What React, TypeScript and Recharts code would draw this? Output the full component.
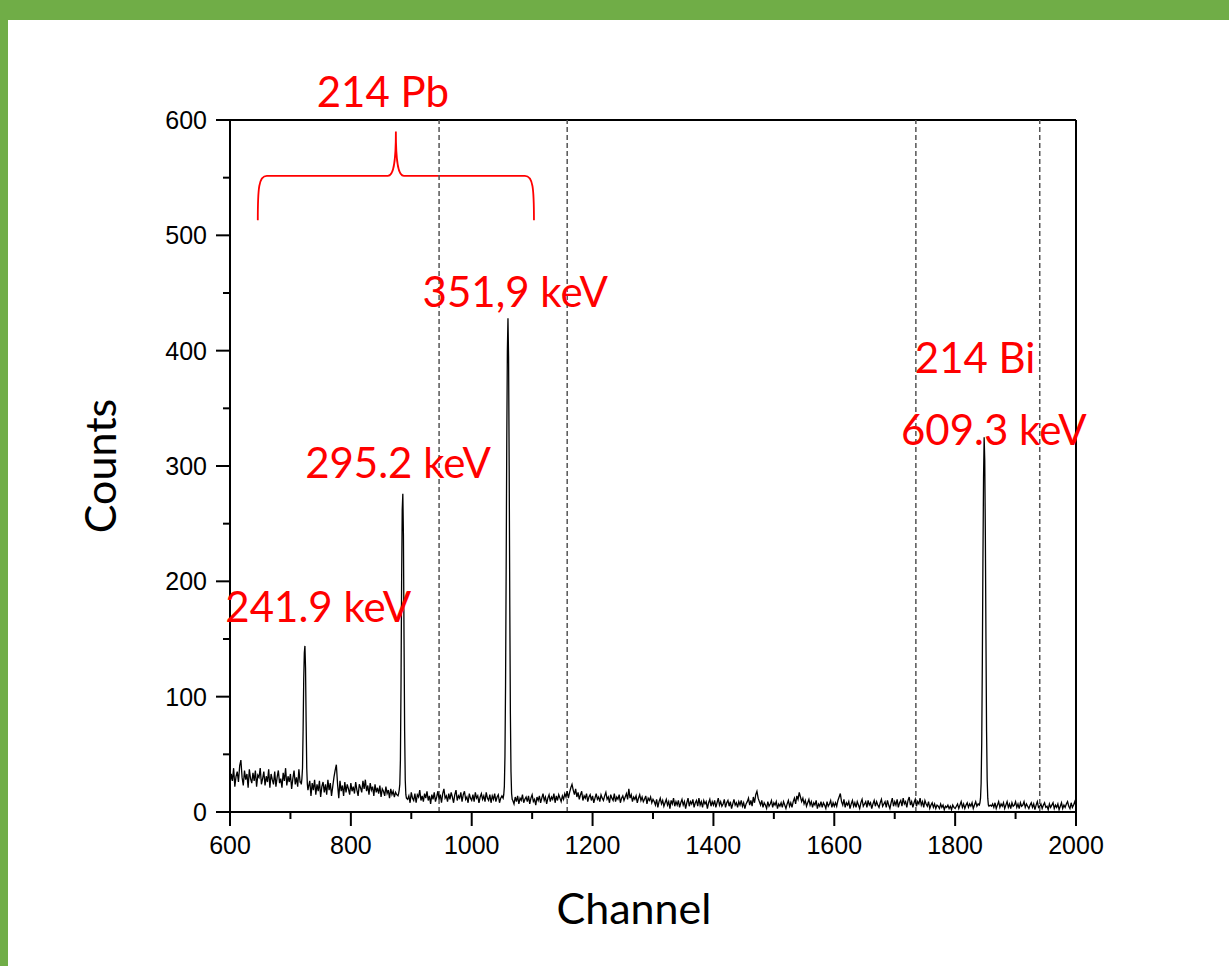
import React from "react";
import { LineChart, Line, XAxis, YAxis, ReferenceLine, ReferenceArea, ReferenceDot, Customized } from "recharts";

// gamma spectrum, background read every 2 channels, peaks read channel by channel
const bgStep = 2;

const bg600 = [
  24, 33, 27, 38, 22, 31, 35, 26, 40, 45,
  30, 23, 36, 28, 33, 21, 37, 29, 25, 34,
  27, 36, 22, 32, 30, 38, 24, 29, 35, 23,
  31, 26, 37, 21, 33, 28, 24, 35, 22, 30,
  36, 25, 29, 21, 34, 27, 38, 23, 31, 26,
  33, 20, 29, 36, 24, 30, 22, 37, 26, 32,
  28, 30,
];
const bg724 = [
  28, 26, 24, 17, 27, 14, 25, 19, 28, 15,
  24, 18, 27, 13, 22, 26, 17, 24, 15, 28,
  19, 25, 14, 22, 30, 36, 41, 24, 12, 27,
  18, 23, 14, 26, 17, 24, 20, 15, 25, 18,
  22, 16, 26, 19, 14, 24, 21, 17, 27, 20,
  28, 18, 23, 15, 25, 19, 22, 14, 24, 17,
  21, 16, 23, 13, 20, 18, 14, 22, 16, 19,
  12, 20, 15, 18, 13, 17, 15, 14,
];
const bg880 = [
  16, 14, 12, 10, 15, 9, 18, 11, 14, 8,
  17, 12, 10, 16, 8, 15, 13, 19, 10, 14,
  9, 16, 12, 18, 10, 14, 7, 15, 11, 17,
  9, 13, 18, 11, 15, 8, 16, 20, 12, 14,
  9, 16, 11, 17, 13, 8, 15, 19, 10, 14,
  12, 17, 9, 15, 18, 11, 13, 8, 16, 12,
  10, 15, 9, 17, 12, 14, 8, 13, 16, 11,
  14, 9, 17, 12, 10, 15, 8, 14, 11, 16,
  9, 13, 15, 8, 12, 14,
];
const bg1052 = [
  14, 13, 12, 11, 10, 9, 8, 12, 10, 7,
  13, 9, 14, 7, 12, 10, 15, 8, 11, 13,
  9, 14, 7, 12, 15, 9, 11, 6, 13, 10,
  14, 8, 12, 16, 10, 13, 7, 12, 15, 9,
  13, 11, 16, 8, 14, 10, 15, 12, 9, 14,
  11, 16, 13, 18, 12, 17, 21, 24, 19, 15,
  20, 13, 17, 11, 15, 18, 10, 14, 12, 16,
  9, 13, 15, 10, 14, 8, 12, 16, 11, 13,
  9, 15, 12, 10, 14, 17, 11, 13, 8, 15,
  12, 10, 16, 9, 13, 11, 15, 8, 12, 14,
  10, 13, 16, 11, 20, 12, 15, 9, 13, 11,
  14, 8, 12, 15, 10, 13, 9, 11, 14, 7,
  12, 10, 13, 8, 11,
];
const bg1302 = [
  9, 6, 11, 4, 9, 12, 7, 10, 5, 8,
  11, 6, 9, 3, 10, 7, 12, 5, 9, 6,
  10, 4, 8, 11, 6, 9, 3, 8, 12, 5,
  9, 7, 11, 4, 8, 10, 5, 12, 6, 9,
  4, 10, 7, 9, 3, 8, 11, 5, 9, 6,
  10, 4, 8, 12, 6, 9, 5, 7, 11, 4,
  8, 10, 5, 9, 3, 7, 11, 6, 8, 4,
  9, 6, 10, 5, 8, 3, 7, 9, 12, 6,
  10, 5, 13, 8, 15, 18, 12, 9, 6, 10,
  4, 8, 6, 3, 9, 5, 7, 10, 4, 8,
  6, 9, 3, 7, 5, 8, 4, 9, 6, 3,
  7, 10, 5, 8, 4, 9, 12, 7, 14, 11,
  17, 13, 9, 12, 7, 10, 5, 8, 11, 6,
  9, 4, 8, 6, 10, 3, 7, 5, 9, 4,
  8, 6, 3, 9, 5, 7, 10, 4, 8, 5,
];
const bg1602 = [
  8, 5, 10, 13, 16, 9, 6, 11, 4, 8,
  6, 9, 3, 7, 10, 5, 8, 4, 9, 6,
  3, 8, 11, 5, 7, 9, 4, 10, 6, 8,
  3, 7, 10, 5, 9, 6, 4, 8, 11, 5,
  7, 9, 4, 10, 6, 3, 8, 12, 5, 9,
  6, 11, 4, 8, 10, 5, 12, 7, 9, 4,
  10, 13, 6, 9, 4, 8, 11, 5, 9, 7,
  12, 6, 9, 4, 10, 7, 5, 9, 3, 6,
  8, 4, 7, 3, 6, 5, 3, 7, 4, 6,
  2, 5, 4, 6, 3, 5, 2, 6, 4, 3,
  5, 7, 3, 6, 9, 4, 7, 3, 6, 8,
  4, 7, 5, 8, 3, 6, 9, 5, 7, 6,
  6, 5, 6, 4, 5, 6, 4, 5, 6, 5,
  7, 4, 8, 3, 6, 9, 4, 7, 5, 8,
  3, 6, 9, 4, 7, 3, 8, 5, 6, 9,
  4, 7, 3, 8, 5, 6, 9, 4, 7, 5,
  3, 6, 8, 4, 7, 2, 6, 9, 4, 5,
  7, 3, 6, 8, 4, 5, 2, 7, 4, 6,
  8, 3, 6, 4, 7, 2, 5, 8, 3, 6,
  4, 7, 9, 5, 3, 8, 4, 6, 9, 5,
];

const peak242 = [26, 24, 29, 38, 72, 115, 138, 144, 125, 78, 38, 24, 19, 22];
const peak295 = [16, 19, 24, 45, 110, 200, 262, 276, 240, 150, 70, 28, 15, 12];
const peak352 = [12, 15, 22, 48, 110, 210, 320, 400, 428, 395, 300, 180, 85, 35, 16, 11];
const peak609 = [6, 8, 12, 25, 60, 130, 220, 290, 325, 305, 240, 150, 70, 28, 12, 6];

const backgroundSegments: [number, number[]][] = [
  [600, bg600], [724, bg724], [880, bg880], [1052, bg1052], [1302, bg1302], [1602, bg1602],
];
const peakSegments: [number, number[]][] = [
  [717, peak242], [879, peak295], [1052, peak352], [1840, peak609],
];

const counts = new Map<number, number>();
backgroundSegments.forEach(([start, vals]) => vals.forEach((v, i) => counts.set(start + i * bgStep, v)));
peakSegments.forEach(([start, vals]) => vals.forEach((v, i) => counts.set(start + i, v)));
const spectrum = [...counts.entries()]
  .filter(([channel]) => channel <= 2000)
  .sort((a, b) => a[0] - b[0])
  .map(([channel, value]) => ({ channel, value }));

const xTicks = [600, 700, 800, 900, 1000, 1100, 1200, 1300, 1400, 1500, 1600, 1700, 1800, 1900, 2000];
const yTicks = [0, 50, 100, 150, 200, 250, 300, 350, 400, 450, 500, 550, 600];
const markerChannels = [946, 1158, 1735, 1940];

// peak labels, anchored at channel / counts (text centre, baseline)
const peakLabels = [
  { text: "214 Pb", channel: 853, counts: 611 },
  { text: "351,9 keV", channel: 1072, counts: 438 },
  { text: "214 Bi", channel: 1833, counts: 381 },
  { text: "609.3 keV", channel: 1864, counts: 318 },
  { text: "295.2 keV", channel: 878, counts: 290 },
  { text: "241.9 keV", channel: 746, counts: 165 },
];

const GREEN = "#70AD47";
const RED = "#FF0000";
const tickFont = "'Liberation Sans', Arial, sans-serif";
const labelFont = "Lato, 'Noto Sans', sans-serif";

const XTick = ({ x, y, payload }: any) => {
  const major = payload.value % 200 === 0;
  return (
    <g>
      <line x1={x} x2={x} y1={y} y2={y + (major ? 14 : 7)} stroke="#000" strokeWidth={2} />
      {major && (
        <text x={x} y={y + 42} textAnchor="middle" fontSize={25} fontFamily={tickFont} fill="#000">
          {payload.value}
        </text>
      )}
    </g>
  );
};

const YTick = ({ x, y, payload }: any) => {
  const major = payload.value % 100 === 0;
  return (
    <g>
      <line x1={x} x2={x - (major ? 14 : 7)} y1={y} y2={y} stroke="#000" strokeWidth={2} />
      {major && (
        <text x={x - 23} y={y} dy="0.36em" textAnchor="end" fontSize={25} fontFamily={tickFont} fill="#000">
          {payload.value}
        </text>
      )}
    </g>
  );
};

const Brace = ({ x, y, width, height }: any) => {
  const yb = y + height;
  const yh = y + height * 0.5;
  const xc = x + width / 2;
  const x1 = x + width;
  const d = [
    `M ${x} ${yb}`,
    `C ${x} ${yh + 12} ${x + 1} ${yh} ${x + 9} ${yh}`,
    `L ${xc - 8} ${yh}`,
    `C ${xc - 3} ${yh} ${xc} ${yh - 10} ${xc} ${y}`,
    `C ${xc} ${yh - 10} ${xc + 3} ${yh} ${xc + 8} ${yh}`,
    `L ${x1 - 9} ${yh}`,
    `C ${x1 - 1} ${yh} ${x1} ${yh + 12} ${x1} ${yb}`,
  ].join(" ");
  return <path d={d} fill="none" stroke={RED} strokeWidth={1.8} />;
};

const AxisTitles = () => (
  <g fontFamily={labelFont} fontSize={43} fill="#000">
    <text x={634} y={924} textAnchor="middle">Channel</text>
    <text x={116} y={466} textAnchor="middle" transform="rotate(-90 116 466)">Counts</text>
  </g>
);

export default function App() {
  return (
    <div style={{ position: "relative", width: 1229, height: 966, background: "#fff", overflow: "hidden" }}>
      <style>{`body{margin:0}`}</style>
      <div style={{ position: "absolute", left: 0, top: 0, width: 1229, height: 20, background: GREEN }} />
      <div style={{ position: "absolute", left: 0, top: 0, width: 8, height: 966, background: GREEN }} />
      <div style={{ position: "absolute", left: 0, top: 0 }}>
        <LineChart width={1229} height={966} data={spectrum} margin={{ top: 120, right: 153, left: 150, bottom: 94 }}>
          <XAxis
            dataKey="channel"
            type="number"
            domain={[600, 2000]}
            ticks={xTicks}
            interval={0}
            allowDataOverflow
            axisLine={{ stroke: "#000", strokeWidth: 2 }}
            tickLine={false}
            tickSize={0}
            tickMargin={0}
            tick={<XTick />}
            height={60}
          />
          <YAxis
            type="number"
            domain={[0, 600]}
            ticks={yTicks}
            interval={0}
            allowDataOverflow
            axisLine={{ stroke: "#000", strokeWidth: 2 }}
            tickLine={false}
            tickSize={0}
            tickMargin={0}
            tick={<YTick />}
            width={80}
          />
          <ReferenceLine y={600} stroke="#000" strokeWidth={2} />
          <ReferenceLine x={2000} stroke="#000" strokeWidth={2} />
          {markerChannels.map((c) => (
            <ReferenceLine key={c} x={c} stroke="#555" strokeWidth={1.5} strokeDasharray="5 3" />
          ))}
          <Line
            type="linear"
            dataKey="value"
            stroke="#000"
            strokeWidth={1.3}
            dot={false}
            isAnimationActive={false}
          />
          <ReferenceArea x1={646} x2={1103} y1={513} y2={590} ifOverflow="visible" shape={<Brace />} />
          {peakLabels.map((l) => (
            <ReferenceDot
              key={l.text}
              x={l.channel}
              y={l.counts}
              ifOverflow="visible"
              shape={(p: any) => (
                <text x={p.cx} y={p.cy} textAnchor="middle" fontFamily={labelFont} fontSize={42} fill={RED}>
                  {l.text}
                </text>
              )}
            />
          ))}
          <Customized component={<AxisTitles />} />
        </LineChart>
      </div>
    </div>
  );
}
